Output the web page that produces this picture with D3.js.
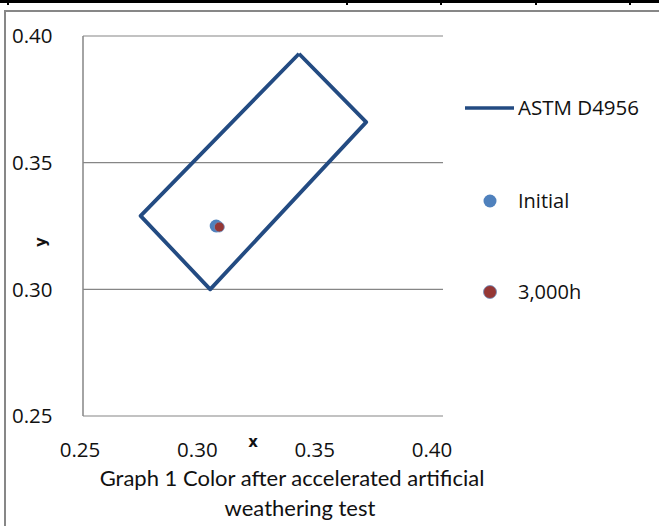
<!DOCTYPE html>
<html>
<head>
<meta charset="utf-8">
<style>
body { margin: 0; background: #fff; }
.lbl { font-family: "Open Sans", sans-serif; fill: #111; }
.title { font-family: Lato, "Open Sans", sans-serif; font-size: 22px; fill: #111; }
.axisname { font-family: "DejaVu Sans", sans-serif; font-weight: bold; font-size: 15px; fill: #111; }
</style>
</head>
<body>
<svg id="chart" width="659" height="526"></svg>
<script src="https://cdn.jsdelivr.net/npm/d3@7/dist/d3.min.js"></script>
<script>
// ASTM D4956 white colour box (x, y corners)
var boxX = [0.340, 0.368, 0.303, 0.274, 0.340];
var boxY = [0.393, 0.366, 0.300, 0.329, 0.393];

// measured points
var seriesNames = ["Initial", "3,000h"];
var pointX = [0.3055, 0.3068];
var pointY = [0.3250, 0.3246];
var pointColors = ["#4f81bd", "#953735"];

var xTicks = [0.25, 0.30, 0.35, 0.40];
var yTicks = [0.25, 0.30, 0.35, 0.40];

var svg = d3.select("#chart");

// table border bits at the very top of the page
svg.append("rect").attr("x", 0).attr("y", 0).attr("width", 659).attr("height", 3).attr("fill", "#000");
[8, 347, 441, 536, 630].forEach(function(px) {
  svg.append("rect").attr("x", px - 1).attr("y", 0).attr("width", 2).attr("height", 5).attr("fill", "#000");
});

// chart frame
svg.append("rect")
    .attr("x", 5).attr("y", 11)
    .attr("width", 670).attr("height", 540)
    .attr("fill", "none")
    .attr("stroke", "#878787")
    .attr("stroke-width", 2);

var x = d3.scaleLinear().domain([0.25, 0.40]).range([83, 443]);
var y = d3.scaleLinear().domain([0.25, 0.40]).range([416, 36]);
// excel squeezes its x labels a bit
var xl = d3.scaleLinear().domain([0.25, 0.40]).range([80, 432]);

// horizontal gridlines
svg.append("g")
  .selectAll("line")
  .data(yTicks)
  .enter().append("line")
    .attr("x1", x(0.25)).attr("x2", x(0.40))
    .attr("y1", function(d) { return y(d); })
    .attr("y2", function(d) { return y(d); })
    .attr("stroke", "#868686")
    .attr("stroke-width", 1.2);

// y axis line
svg.append("line")
    .attr("x1", x(0.25)).attr("x2", x(0.25))
    .attr("y1", y(0.40)).attr("y2", y(0.25))
    .attr("stroke", "#868686")
    .attr("stroke-width", 1.5);

// y tick labels
svg.append("g")
  .selectAll("text")
  .data(yTicks)
  .enter().append("text")
    .attr("class", "lbl")
    .attr("x", 12)
    .attr("y", function(d) { return y(d); })
    .attr("dy", "0.35em")
    .style("font-size", "20.5px")
    .text(d3.format(".2f"));

// x tick labels
svg.append("g")
  .selectAll("text")
  .data(xTicks)
  .enter().append("text")
    .attr("class", "lbl")
    .attr("x", function(d) { return xl(d); })
    .attr("y", 457)
    .attr("text-anchor", "middle")
    .style("font-size", "20.5px")
    .text(d3.format(".2f"));

svg.append("text")
    .attr("class", "axisname")
    .attr("x", 253).attr("y", 447)
    .attr("text-anchor", "middle")
    .text("x");

svg.append("text")
    .attr("class", "axisname")
    .attr("transform", "translate(46,242) rotate(-90)")
    .attr("text-anchor", "middle")
    .text("y");

// the box
var line = d3.line()
    .x(function(d) { return x(boxX[d]); })
    .y(function(d) { return y(boxY[d]); });

svg.append("path")
    .datum(d3.range(boxX.length))
    .attr("d", line)
    .attr("fill", "none")
    .attr("stroke", "#234b82")
    .attr("stroke-width", 3.8)
    .attr("stroke-linejoin", "round");

// points
svg.append("g")
  .selectAll("circle")
  .data(d3.range(pointX.length))
  .enter().append("circle")
    .attr("cx", function(i) { return x(pointX[i]); })
    .attr("cy", function(i) { return y(pointY[i]); })
    .attr("r", function(i) { return i == 0 ? 6.5 : 5; })
    .attr("fill", function(i) { return pointColors[i]; })
    .attr("stroke", function(i) { return i == 0 ? "none" : "#6f8fc0"; })
    .attr("stroke-width", 0.8);

// legend
svg.append("line")
    .attr("x1", 465).attr("x2", 514)
    .attr("y1", 108).attr("y2", 108)
    .attr("stroke", "#234b82")
    .attr("stroke-width", 3.5);
svg.append("text")
    .attr("class", "lbl")
    .attr("x", 518).attr("y", 108)
    .attr("dy", "0.35em")
    .style("font-size", "20.5px")
    .text("ASTM D4956");

var legY = [201, 292];
var leg = svg.append("g")
  .selectAll("g")
  .data(d3.range(seriesNames.length))
  .enter().append("g")
    .attr("transform", function(i) { return "translate(0," + legY[i] + ")"; });

leg.append("circle")
    .attr("cx", 490)
    .attr("r", 6.5)
    .attr("fill", function(i) { return pointColors[i]; })
    .attr("stroke", function(i) { return i == 0 ? "none" : "#6f8fc0"; })
    .attr("stroke-width", 0.8);

leg.append("text")
    .attr("class", "lbl")
    .attr("x", 518)
    .attr("dy", "0.35em")
    .style("font-size", "20px")
    .text(function(i) { return seriesNames[i]; });

// caption
svg.append("text")
    .attr("class", "title")
    .attr("x", 292).attr("y", 486)
    .attr("text-anchor", "middle")
    .text("Graph 1 Color after accelerated artificial");
svg.append("text")
    .attr("class", "title")
    .attr("x", 300).attr("y", 516)
    .attr("text-anchor", "middle")
    .text("weathering test");
</script>
</body>
</html>
